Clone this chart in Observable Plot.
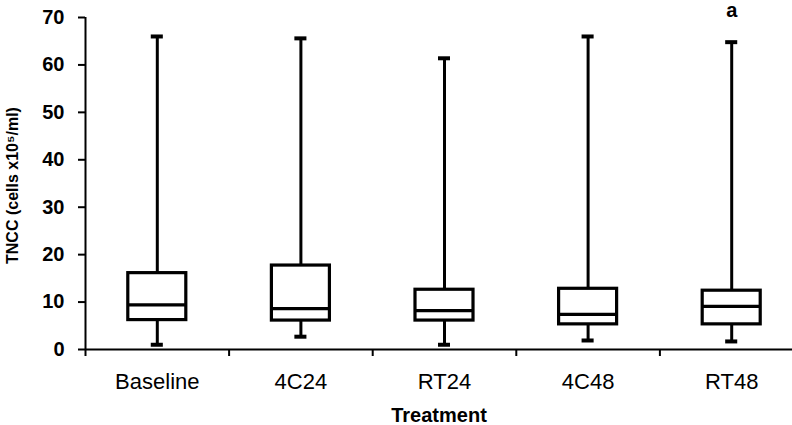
<!DOCTYPE html>
<html>
<head>
<meta charset="utf-8">
<script src="https://cdn.jsdelivr.net/npm/d3@7"></script>
<script src="https://cdn.jsdelivr.net/npm/@observablehq/plot@0.6"></script>
<style>
  html, body { margin: 0; padding: 0; background: #fff; }
  #chart { width: 792px; height: 425px; }
</style>
</head>
<body>
<div id="chart"></div>
<script>
// Data
const categories = ["Baseline", "4C24", "RT24", "4C48", "RT48"];
const minValues    = [1.0, 2.7, 1.0, 1.9, 1.7];
const q1Values     = [6.2, 6.1, 6.1, 5.3, 5.3];
const medianValues = [9.4, 8.6, 8.2, 7.4, 9.1];
const q3Values     = [16.1, 17.7, 12.6, 12.8, 12.4];
const maxValues    = [66.0, 65.6, 61.4, 66.0, 64.8];
const yTicks = [0, 10, 20, 30, 40, 50, 60, 70];
const annotationCategories = ["RT48"];
const annotationTexts = ["a"];
const yTitle = "TNCC (cells x10\u2075/ml)";
const xTitle = "Treatment";

const data = categories.map((c, i) => ({
  category: c, i,
  min: minValues[i], q1: q1Values[i], median: medianValues[i],
  q3: q3Values[i], max: maxValues[i]
}));
const annotations = annotationCategories.map((c, k) => {
  const d = data.find(e => e.category === c);
  return {i: d.i, y: d.max, text: annotationTexts[k]};
});

const halfBox = 0.202;  // half box width in band units
const halfCap = 0.042;  // half cap width in band units
const center = d => d.i + 0.5;

const chart = Plot.plot({
  width: 792,
  height: 425,
  marginTop: 17,
  marginBottom: 76,
  marginLeft: 85,
  marginRight: 0,
  style: {fontFamily: "'Liberation Sans', Arial, sans-serif", color: "#000", background: "#fff", overflow: "visible"},
  x: {type: "linear", domain: [0, 5], range: [85, 803]},
  y: {domain: [0, 70]},
  marks: [
    // y axis
    Plot.axisY(yTicks, {tickSize: 7, tickPadding: 14, fontSize: 20, fontWeight: "bold", strokeWidth: 2, label: null}),
    // x tick marks at category boundaries
    Plot.axisX(categories.map((c, i) => i), {tickSize: 7, strokeWidth: 2, tickFormat: () => "", label: null}),
    // x category labels
    Plot.axisX(categories.map((c, i) => i + 0.5), {tickSize: 0, tickPadding: 24, fontSize: 22, tickFormat: v => categories[Math.floor(v)], label: null}),
    Plot.ruleX([0], {strokeWidth: 2}),
    Plot.ruleY([0], {strokeWidth: 2}),
    // whiskers
    Plot.ruleX(data, {x: center, y1: "q3", y2: "max", strokeWidth: 3}),
    Plot.ruleX(data, {x: center, y1: "min", y2: "q1", strokeWidth: 3}),
    // caps
    Plot.ruleY(data, {y: "max", x1: d => center(d) - halfCap, x2: d => center(d) + halfCap, strokeWidth: 4}),
    Plot.ruleY(data, {y: "min", x1: d => center(d) - halfCap, x2: d => center(d) + halfCap, strokeWidth: 4}),
    // boxes
    Plot.rect(data, {x1: d => center(d) - halfBox, x2: d => center(d) + halfBox, y1: "q1", y2: "q3", fill: "none", stroke: "#000", strokeWidth: 3.2}),
    // medians
    Plot.ruleY(data, {y: "median", x1: d => center(d) - halfBox, x2: d => center(d) + halfBox, strokeWidth: 3.2}),
    // annotation
    Plot.text(annotations, {x: d => d.i + 0.5, y: "y", text: "text", dy: -32, fontSize: 20, fontWeight: "bold"}),
    // titles
    Plot.text([yTitle], {frameAnchor: "left", textAnchor: "middle", dx: -73, dy: 2, rotate: -90, fontSize: 16, fontWeight: "bold"}),
    Plot.text([xTitle], {frameAnchor: "bottom", lineAnchor: "top", dy: 58, fontSize: 20, fontWeight: "bold"})
  ]
});
document.getElementById("chart").appendChild(chart);
</script>
</body>
</html>
